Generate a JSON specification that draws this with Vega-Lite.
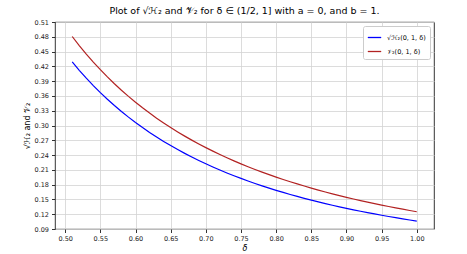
{
  "$schema": "https://vega.github.io/schema/vega-lite/v6.json",
  "width": 379,
  "height": 207,
  "autosize": {"type": "none"},
  "padding": {"left": 55, "top": 22, "right": 33, "bottom": 25},
  "title": {
    "text": "Plot of √ℋ₂ and 𝒱₂ for δ ∈ (1/2, 1] with a = 0, and b = 1.",
    "font": "DejaVu Sans",
    "fontSize": 9.5,
    "fontWeight": "normal",
    "color": "#000",
    "offset": 4,
    "anchor": "middle"
  },
  "config": {
    "view": {"stroke": "#000", "strokeWidth": 0.8},
    "axis": {
      "labelFont": "DejaVu Sans",
      "labelFontSize": 6.5,
      "labelColor": "#222",
      "titleFont": "DejaVu Sans",
      "titleFontSize": 8,
      "titleFontWeight": "normal",
      "titleColor": "#000",
      "gridColor": "#d3d3d3",
      "gridWidth": 0.8,
      "tickColor": "#000",
      "tickSize": 3.5,
      "tickWidth": 0.8,
      "domain": false,
      "labelPadding": 3
    },
    "legend": {
      "labelFont": "DejaVu Sans",
      "labelFontSize": 6.5,
      "labelColor": "#000"
    }
  },
  "data": {
    "values": [
      {"d": 0.51, "s": "√ℋ₂(0, 1, δ)", "v": 0.42894}, {"d": 0.52, "s": "√ℋ₂(0, 1, δ)", "v": 0.41199},
      {"d": 0.53, "s": "√ℋ₂(0, 1, δ)", "v": 0.39602}, {"d": 0.54, "s": "√ℋ₂(0, 1, δ)", "v": 0.38094},
      {"d": 0.55, "s": "√ℋ₂(0, 1, δ)", "v": 0.36670}, {"d": 0.56, "s": "√ℋ₂(0, 1, δ)", "v": 0.35324},
      {"d": 0.57, "s": "√ℋ₂(0, 1, δ)", "v": 0.34050}, {"d": 0.58, "s": "√ℋ₂(0, 1, δ)", "v": 0.32842},
      {"d": 0.59, "s": "√ℋ₂(0, 1, δ)", "v": 0.31697}, {"d": 0.60, "s": "√ℋ₂(0, 1, δ)", "v": 0.30611},
      {"d": 0.61, "s": "√ℋ₂(0, 1, δ)", "v": 0.29578}, {"d": 0.62, "s": "√ℋ₂(0, 1, δ)", "v": 0.28596},
      {"d": 0.63, "s": "√ℋ₂(0, 1, δ)", "v": 0.27662}, {"d": 0.64, "s": "√ℋ₂(0, 1, δ)", "v": 0.26772},
      {"d": 0.65, "s": "√ℋ₂(0, 1, δ)", "v": 0.25923}, {"d": 0.66, "s": "√ℋ₂(0, 1, δ)", "v": 0.25115},
      {"d": 0.67, "s": "√ℋ₂(0, 1, δ)", "v": 0.24343}, {"d": 0.68, "s": "√ℋ₂(0, 1, δ)", "v": 0.23605},
      {"d": 0.69, "s": "√ℋ₂(0, 1, δ)", "v": 0.22901}, {"d": 0.70, "s": "√ℋ₂(0, 1, δ)", "v": 0.22227},
      {"d": 0.71, "s": "√ℋ₂(0, 1, δ)", "v": 0.21582}, {"d": 0.72, "s": "√ℋ₂(0, 1, δ)", "v": 0.20964},
      {"d": 0.73, "s": "√ℋ₂(0, 1, δ)", "v": 0.20373}, {"d": 0.74, "s": "√ℋ₂(0, 1, δ)", "v": 0.19805},
      {"d": 0.75, "s": "√ℋ₂(0, 1, δ)", "v": 0.19261}, {"d": 0.76, "s": "√ℋ₂(0, 1, δ)", "v": 0.18739},
      {"d": 0.77, "s": "√ℋ₂(0, 1, δ)", "v": 0.18237}, {"d": 0.78, "s": "√ℋ₂(0, 1, δ)", "v": 0.17755},
      {"d": 0.79, "s": "√ℋ₂(0, 1, δ)", "v": 0.17292}, {"d": 0.80, "s": "√ℋ₂(0, 1, δ)", "v": 0.16846},
      {"d": 0.81, "s": "√ℋ₂(0, 1, δ)", "v": 0.16417}, {"d": 0.82, "s": "√ℋ₂(0, 1, δ)", "v": 0.16004},
      {"d": 0.83, "s": "√ℋ₂(0, 1, δ)", "v": 0.15606}, {"d": 0.84, "s": "√ℋ₂(0, 1, δ)", "v": 0.15223},
      {"d": 0.85, "s": "√ℋ₂(0, 1, δ)", "v": 0.14853}, {"d": 0.86, "s": "√ℋ₂(0, 1, δ)", "v": 0.14497},
      {"d": 0.87, "s": "√ℋ₂(0, 1, δ)", "v": 0.14153}, {"d": 0.88, "s": "√ℋ₂(0, 1, δ)", "v": 0.13822},
      {"d": 0.89, "s": "√ℋ₂(0, 1, δ)", "v": 0.13501}, {"d": 0.90, "s": "√ℋ₂(0, 1, δ)", "v": 0.13192},
      {"d": 0.91, "s": "√ℋ₂(0, 1, δ)", "v": 0.12893}, {"d": 0.92, "s": "√ℋ₂(0, 1, δ)", "v": 0.12603},
      {"d": 0.93, "s": "√ℋ₂(0, 1, δ)", "v": 0.12324}, {"d": 0.94, "s": "√ℋ₂(0, 1, δ)", "v": 0.12053},
      {"d": 0.95, "s": "√ℋ₂(0, 1, δ)", "v": 0.11791}, {"d": 0.96, "s": "√ℋ₂(0, 1, δ)", "v": 0.11537},
      {"d": 0.97, "s": "√ℋ₂(0, 1, δ)", "v": 0.11292}, {"d": 0.98, "s": "√ℋ₂(0, 1, δ)", "v": 0.11054},
      {"d": 0.99, "s": "√ℋ₂(0, 1, δ)", "v": 0.10823}, {"d": 1.00, "s": "√ℋ₂(0, 1, δ)", "v": 0.10600},
      {"d": 0.51, "s": "𝒱₂(0, 1, δ)", "v": 0.48058}, {"d": 0.52, "s": "𝒱₂(0, 1, δ)", "v": 0.46228},
      {"d": 0.53, "s": "𝒱₂(0, 1, δ)", "v": 0.44500}, {"d": 0.54, "s": "𝒱₂(0, 1, δ)", "v": 0.42867},
      {"d": 0.55, "s": "𝒱₂(0, 1, δ)", "v": 0.41322}, {"d": 0.56, "s": "𝒱₂(0, 1, δ)", "v": 0.39860},
      {"d": 0.57, "s": "𝒱₂(0, 1, δ)", "v": 0.38473}, {"d": 0.58, "s": "𝒱₂(0, 1, δ)", "v": 0.37158},
      {"d": 0.59, "s": "𝒱₂(0, 1, δ)", "v": 0.35909}, {"d": 0.60, "s": "𝒱₂(0, 1, δ)", "v": 0.34722},
      {"d": 0.61, "s": "𝒱₂(0, 1, δ)", "v": 0.33593}, {"d": 0.62, "s": "𝒱₂(0, 1, δ)", "v": 0.32518},
      {"d": 0.63, "s": "𝒱₂(0, 1, δ)", "v": 0.31494}, {"d": 0.64, "s": "𝒱₂(0, 1, δ)", "v": 0.30518},
      {"d": 0.65, "s": "𝒱₂(0, 1, δ)", "v": 0.29586}, {"d": 0.66, "s": "𝒱₂(0, 1, δ)", "v": 0.28696},
      {"d": 0.67, "s": "𝒱₂(0, 1, δ)", "v": 0.27846}, {"d": 0.68, "s": "𝒱₂(0, 1, δ)", "v": 0.27033},
      {"d": 0.69, "s": "𝒱₂(0, 1, δ)", "v": 0.26255}, {"d": 0.70, "s": "𝒱₂(0, 1, δ)", "v": 0.25510},
      {"d": 0.71, "s": "𝒱₂(0, 1, δ)", "v": 0.24797}, {"d": 0.72, "s": "𝒱₂(0, 1, δ)", "v": 0.24113},
      {"d": 0.73, "s": "𝒱₂(0, 1, δ)", "v": 0.23456}, {"d": 0.74, "s": "𝒱₂(0, 1, δ)", "v": 0.22827},
      {"d": 0.75, "s": "𝒱₂(0, 1, δ)", "v": 0.22222}, {"d": 0.76, "s": "𝒱₂(0, 1, δ)", "v": 0.21641},
      {"d": 0.77, "s": "𝒱₂(0, 1, δ)", "v": 0.21083}, {"d": 0.78, "s": "𝒱₂(0, 1, δ)", "v": 0.20546},
      {"d": 0.79, "s": "𝒱₂(0, 1, δ)", "v": 0.20029}, {"d": 0.80, "s": "𝒱₂(0, 1, δ)", "v": 0.19531},
      {"d": 0.81, "s": "𝒱₂(0, 1, δ)", "v": 0.19052}, {"d": 0.82, "s": "𝒱₂(0, 1, δ)", "v": 0.18590},
      {"d": 0.83, "s": "𝒱₂(0, 1, δ)", "v": 0.18145}, {"d": 0.84, "s": "𝒱₂(0, 1, δ)", "v": 0.17715},
      {"d": 0.85, "s": "𝒱₂(0, 1, δ)", "v": 0.17301}, {"d": 0.86, "s": "𝒱₂(0, 1, δ)", "v": 0.16901},
      {"d": 0.87, "s": "𝒱₂(0, 1, δ)", "v": 0.16515}, {"d": 0.88, "s": "𝒱₂(0, 1, δ)", "v": 0.16141},
      {"d": 0.89, "s": "𝒱₂(0, 1, δ)", "v": 0.15781}, {"d": 0.90, "s": "𝒱₂(0, 1, δ)", "v": 0.15432},
      {"d": 0.91, "s": "𝒱₂(0, 1, δ)", "v": 0.15095}, {"d": 0.92, "s": "𝒱₂(0, 1, δ)", "v": 0.14768},
      {"d": 0.93, "s": "𝒱₂(0, 1, δ)", "v": 0.14453}, {"d": 0.94, "s": "𝒱₂(0, 1, δ)", "v": 0.14147},
      {"d": 0.95, "s": "𝒱₂(0, 1, δ)", "v": 0.13850}, {"d": 0.96, "s": "𝒱₂(0, 1, δ)", "v": 0.13563},
      {"d": 0.97, "s": "𝒱₂(0, 1, δ)", "v": 0.13285}, {"d": 0.98, "s": "𝒱₂(0, 1, δ)", "v": 0.13015},
      {"d": 0.99, "s": "𝒱₂(0, 1, δ)", "v": 0.12754}, {"d": 1.00, "s": "𝒱₂(0, 1, δ)", "v": 0.12500}
    ]
  },
  "mark": {"type": "line", "strokeWidth": 1.2, "clip": true},
  "encoding": {
    "x": {
      "field": "d",
      "type": "quantitative",
      "scale": {"domain": [0.4855, 1.0245], "nice": false, "zero": false},
      "axis": {
        "title": "δ",
        "titleFontStyle": "italic",
        "values": [0.5, 0.55, 0.6, 0.65, 0.7, 0.75, 0.8, 0.85, 0.9, 0.95, 1.0],
        "format": ".2f",
        "titlePadding": 2
      }
    },
    "y": {
      "field": "v",
      "type": "quantitative",
      "scale": {"domain": [0.09, 0.51], "nice": false, "zero": false},
      "axis": {
        "title": "√ℋ₂ and 𝒱₂",
        "values": [0.09, 0.12, 0.15, 0.18, 0.21, 0.24, 0.27, 0.3, 0.33, 0.36, 0.39, 0.42, 0.45, 0.48, 0.51],
        "format": ".2f",
        "titlePadding": 3
      }
    },
    "color": {
      "field": "s",
      "type": "nominal",
      "scale": {"domain": ["√ℋ₂(0, 1, δ)", "𝒱₂(0, 1, δ)"], "range": ["#0000ff", "#b22222"]},
      "legend": {
        "title": null,
        "orient": "top-right",
        "offset": 4,
        "symbolType": "stroke",
        "symbolSize": 180,
        "symbolStrokeWidth": 1.3,
        "fillColor": "#ffffff",
        "strokeColor": "#cccccc",
        "padding": 4,
        "cornerRadius": 2,
        "rowPadding": 3,
        "labelOffset": 5
      }
    }
  }
}
